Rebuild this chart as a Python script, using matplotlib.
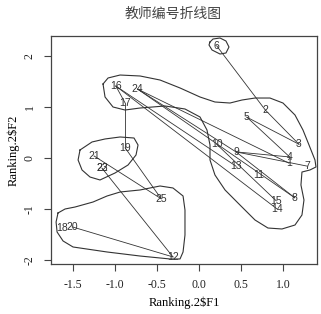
import numpy as np
import matplotlib
matplotlib.use("Agg")
import matplotlib.pyplot as plt

# teacher labels and their positions (Ranking.2$F1, Ranking.2$F2)
labels = ["1", "2", "3", "4", "5", "6", "7", "8", "9", "10", "11", "12", "13",
          "14", "15", "16", "17", "18", "19", "20", "21", "22", "23", "24", "25"]
f1 = [1.07, 0.79, 1.19, 1.08, 0.57, 0.21, 1.29, 1.14, 0.44, 0.21, 0.71, -0.31, 0.44,
      0.93, 0.92, -0.99, -0.88, -1.63, -0.88, -1.51, -1.25, -1.155, -1.15, -0.73, -0.45]
f2 = [-0.10, 0.94, 0.27, 0.02, 0.80, 2.20, -0.16, -0.78, 0.12, 0.27, -0.33, -1.94, -0.16,
      -1.00, -0.84, 1.41, 1.08, -1.37, 0.20, -1.35, 0.04, -0.20, -0.20, 1.35, -0.80]

# connecting lines, as pairs of teacher labels
links = [("6", "2"), ("2", "3"), ("5", "3"), ("5", "4"), ("16", "17"), ("17", "19"),
         ("19", "25"), ("21", "25"), ("22", "12"), ("20", "12"), ("16", "13"),
         ("16", "14"), ("24", "9"), ("24", "8"), ("24", "1"), ("9", "4"), ("9", "7"),
         ("9", "8"), ("10", "15")]

# group outlines
outline_top = [(-1.143, 1.451), (-1.083, 1.569), (-0.940, 1.627), (-0.702, 1.608),
               (-0.464, 1.529), (-0.226, 1.373), (0.012, 1.196), (0.190, 1.098),
               (0.369, 1.078), (0.512, 1.137), (0.667, 1.176), (0.845, 1.176),
               (1.0, 1.078), (1.143, 0.843), (1.238, 0.549), (1.310, 0.255),
               (1.381, -0.039), (1.393, -0.176), (1.321, -0.235), (1.226, -0.275),
               (1.214, -0.529), (1.25, -0.824), (1.226, -1.118), (1.143, -1.314),
               (0.988, -1.392), (0.821, -1.373), (0.667, -1.216), (0.488, -0.922),
               (0.310, -0.627), (0.190, -0.333), (0.131, -0.039), (0.131, 0.255),
               (0.095, 0.549), (0.012, 0.804), (-0.167, 0.961), (-0.405, 1.020),
               (-0.702, 0.980), (-0.881, 0.941), (-1.024, 1.0), (-1.119, 1.196)]
outline_six = [(0.131, 2.275), (0.167, 2.333), (0.25, 2.353), (0.321, 2.294),
               (0.357, 2.176), (0.321, 2.059), (0.25, 2.039), (0.155, 2.118),
               (0.119, 2.216)]
outline_mid = [(-1.417, 0.157), (-1.274, 0.314), (-1.119, 0.373), (-0.940, 0.412),
               (-0.774, 0.392), (-0.726, 0.255), (-0.75, 0.059), (-0.845, -0.137),
               (-1.0, -0.294), (-1.179, -0.431), (-1.298, -0.373), (-1.393, -0.235),
               (-1.440, -0.039)]
outline_low = [(-1.679, -1.078), (-1.595, -1.0), (-1.476, -0.961), (-1.262, -0.863),
               (-1.095, -0.745), (-0.940, -0.667), (-0.702, -0.627), (-0.464, -0.549),
               (-0.310, -0.588), (-0.190, -0.745), (-0.167, -1.020), (-0.167, -1.510),
               (-0.190, -1.843), (-0.226, -1.980), (-0.345, -1.980), (-0.702, -1.922),
               (-1.095, -1.843), (-1.5, -1.745), (-1.619, -1.627), (-1.690, -1.451),
               (-1.702, -1.255)]

xticks = [-1.5, -1.0, -0.5, 0.0, 0.5, 1.0]
yticks = [-2, -1, 0, 1, 2]

fig = plt.figure(figsize=(3.21, 3.14), dpi=100)
ax = fig.add_axes([0.159, 0.159, 0.8285, 0.726])

pos = {lab: (x, y) for lab, x, y in zip(labels, f1, f2)}

for a, b in links:
    ax.plot([pos[a][0], pos[b][0]], [pos[a][1], pos[b][1]], color="#333333", lw=0.6)

for outline in [outline_top, outline_six, outline_mid, outline_low]:
    pts = np.array(outline + [outline[0]])
    ax.plot(pts[:, 0], pts[:, 1], color="#333333", lw=0.8)

for lab, x, y in zip(labels, f1, f2):
    ax.text(x, y, lab, ha="center", va="center", fontsize=7.5,
            family="Liberation Sans", color="#333333")

ax.set_xlim(-1.762, 1.405)
ax.set_ylim(-2.08, 2.39)
ax.set_xticks(xticks)
ax.set_xticklabels(["%.1f" % v for v in xticks], family="Liberation Serif", fontsize=8.5)
ax.set_yticks(yticks)
ax.set_yticklabels([str(v) for v in yticks], family="Liberation Serif", fontsize=8.5,
                   rotation=90, va="center")
ax.tick_params(length=5, width=0.8, color="#444444", labelcolor="#222222", pad=6)
for s in ax.spines.values():
    s.set_linewidth(0.9)
    s.set_color("#444444")

ax.set_xlabel("Ranking.2$F1", family="Liberation Serif", fontsize=9, labelpad=4)
ax.set_ylabel("Ranking.2$F2", family="Liberation Serif", fontsize=9, labelpad=3)
fig.text(0.54, 0.955, "教师编号折线图", ha="center", va="center", fontsize=10,
         family=["Noto Sans CJK SC", "DejaVu Sans"], color="#444444")

fig.savefig("out.png", dpi=100)
